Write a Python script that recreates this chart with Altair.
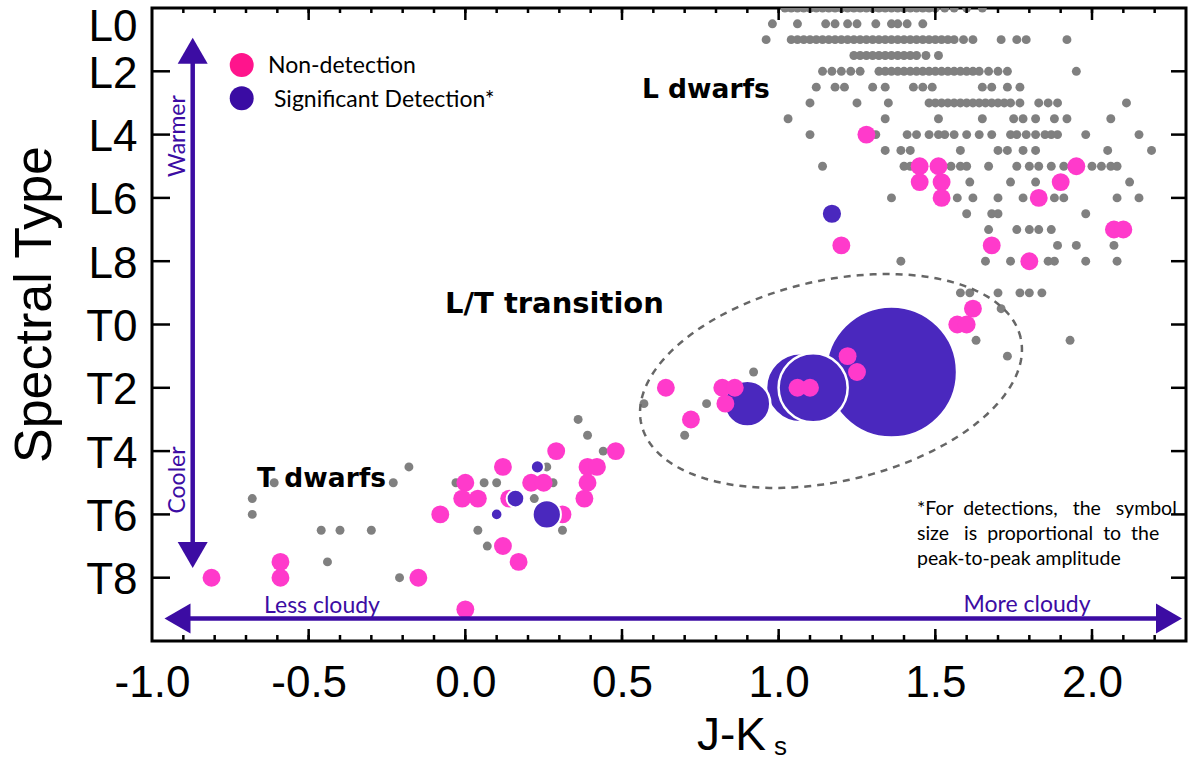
import math
import numpy as np
import pandas as pd
import altair as alt

# ---------------- data ----------------
# field L/T dwarfs (grey), one list of J-Ks values per spectral-type row
gray_spt = [0.0, 0.5, 1.0, 1.5, 2.0, 2.5, 3.0, 3.5, 4.0, 4.5, 5.0, 5.5, 6.0, 6.5,
            7.0, 7.5, 8.0, 9.0, 9.5, 10.5, 11.0, 11.5, 12.5, 13.0, 13.5, 14.0,
            14.5, 15.0, 15.5, 16.0, 16.5, 17.0, 17.5, 18.0]
gray_jk = [
    [1.02, 1.04, 1.06, 1.08, 1.10, 1.12, 1.14, 1.16, 1.18, 1.20, 1.22, 1.24, 1.26,
     1.28, 1.30, 1.32, 1.34, 1.36, 1.38, 1.40, 1.42, 1.44, 1.46, 1.48, 1.50, 1.53,
     1.56, 1.60, 1.65],
    [0.98, 1.06, 1.15, 1.18, 1.22, 1.25, 1.31, 1.36, 1.38, 1.41, 1.46],
    [0.96, 1.04, 1.06, 1.08, 1.10, 1.12, 1.14, 1.16, 1.18, 1.20, 1.22, 1.24, 1.26,
     1.28, 1.30, 1.32, 1.34, 1.36, 1.38, 1.40, 1.42, 1.44, 1.46, 1.48, 1.50, 1.52,
     1.54, 1.56, 1.59, 1.62, 1.71, 1.76, 1.79, 1.92],
    [1.24, 1.26, 1.28, 1.30, 1.32, 1.34, 1.36, 1.38, 1.40, 1.42, 1.44, 1.47, 1.51],
    [1.14, 1.17, 1.20, 1.23, 1.26, 1.32, 1.34, 1.36, 1.38, 1.40, 1.42, 1.44, 1.46,
     1.48, 1.50, 1.52, 1.54, 1.56, 1.58, 1.60, 1.62, 1.64, 1.67, 1.70, 1.73, 1.95],
    [1.12, 1.18, 1.21, 1.30, 1.34, 1.43, 1.46, 1.49, 1.65, 1.68, 1.73, 1.77],
    [1.10, 1.25, 1.35, 1.48, 1.50, 1.52, 1.54, 1.56, 1.58, 1.60, 1.62, 1.64, 1.66,
     1.68, 1.70, 1.72, 1.74, 1.77, 1.83, 1.86, 1.89, 2.11],
    [1.03, 1.34, 1.51, 1.65, 1.75, 1.78, 1.82, 1.88, 1.92, 2.06],
    [1.10, 1.31, 1.41, 1.44, 1.48, 1.51, 1.53, 1.56, 1.60, 1.64, 1.68, 1.74, 1.76,
     1.79, 1.82, 1.85, 1.87, 1.89, 1.98, 2.15],
    [1.34, 1.39, 1.42, 1.58, 1.70, 1.73, 1.78, 1.82, 2.05, 2.19],
    [1.14, 1.40, 1.42, 1.55, 1.58, 1.60, 1.67, 1.76, 1.80, 1.83, 1.87, 1.91, 2.00,
     2.03, 2.06, 2.08],
    [1.61, 1.74, 1.82, 2.12],
    [1.36, 1.57, 1.62, 1.70, 1.78, 1.88, 1.91, 2.08, 2.15],
    [1.60, 1.68, 1.70, 1.98],
    [1.67, 1.76, 1.80, 1.83, 1.87],
    [1.89, 1.95, 2.07],
    [1.39, 1.66, 1.74, 1.86, 1.88, 1.98, 2.08],
    [1.58, 1.61, 1.70, 1.77, 1.80, 1.84],
    [1.71],
    [1.63, 1.93],
    [1.73],
    [0.92],
    [0.57, 0.77],
    [0.36],
    [0.39, 0.70],
    [0.44],
    [-0.18, 0.26],
    [-0.61, -0.23, -0.03, 0.06, 0.10, 0.28],
    [-0.68, 0.22],
    [-0.68],
    [-0.46, -0.40, -0.30, 0.04, 0.31],
    [0.07],
    [-0.44],
    [-0.21],
]

# non-detections (pink)
pink_jk = [1.28, 1.45, 1.51, 1.95, 1.45, 1.52, 1.90, 1.52, 1.83, 2.07, 2.10, 1.20,
           1.68, 1.80, 1.62, 1.57, 1.60, 1.22, 1.25, 0.64, 0.82, 0.86, 1.06, 1.10,
           0.83, 0.72, 0.48, 0.29, 0.12, 0.39, 0.42, 0.00, 0.21, 0.25, 0.39, -0.01,
           0.04, 0.14, 0.38, -0.08, 0.31, 0.12, -0.59, 0.17, -0.81, -0.59, -0.15,
           0.00]
pink_spt = [4.0, 5.0, 5.0, 5.0, 5.5, 5.5, 5.5, 6.0, 6.0, 7.0, 7.0, 7.5, 7.5, 8.0,
            9.5, 10.0, 10.0, 11.0, 11.5, 12.0, 12.0, 12.0, 12.0, 12.0, 12.5, 13.0,
            14.0, 14.0, 14.5, 14.5, 14.5, 15.0, 15.0, 15.0, 15.0, 15.5, 15.5, 15.5,
            15.5, 16.0, 16.0, 17.0, 17.5, 17.5, 18.0, 18.0, 18.0, 19.0]

# significant detections (purple); amplitude in per cent (peak-to-peak)
det_jk = [1.36, 1.07, 1.11, 0.90, 1.17, 0.23, 0.16, 0.10, 0.26]
det_spt = [11.5, 12.0, 12.0, 12.5, 6.5, 14.5, 15.5, 16.0, 16.0]
det_amp = [26.0, 13.7, 13.7, 9.1, 4.0, 2.6, 3.5, 2.3, 5.6]
det_group = ["lt", "lt", "lt", "lt", "other", "other", "other", "other", "other"]

x_label_values = [-1.0, -0.5, 0.0, 0.5, 1.0, 1.5, 2.0]
y_tick_values = [0, 2, 4, 6, 8, 10, 12, 14, 16, 18]
y_tick_labels = ["L0", "L2", "L4", "L6", "L8", "T0", "T2", "T4", "T6", "T8"]

# ---------------- layout ----------------
W, H = 1034, 633
PAD = {"left": 152, "top": 8, "right": 2, "bottom": 120}
X_DOM = [-1.0, 2.3]
Y_DOM = [0.0, 20.0]
PINK = "#FF3ACB"
PURPLE = "#4A28BE"
ARROW = "#3C0CA3"
NB = "\u00a0"

xs = alt.Scale(domain=X_DOM, nice=False, zero=False)
ys = alt.Scale(domain=Y_DOM, nice=False, zero=False, reverse=True)

xaxis = alt.Axis(values=x_label_values,
                 labelExpr="datum.value < 0 ? '-' + format(-datum.value, '.1f') : format(datum.value, '.1f')",
                 title=None, grid=False, ticks=False, tickSize=0, domain=False,
                 labelFlush=False, labelFont="Liberation Sans", labelFontSize=44,
                 labelColor="black", labelPadding=20)
label_expr = "[" + ",".join("'%s'" % s for s in y_tick_labels) + "][round(datum.value/2)]"
yaxis = alt.Axis(values=y_tick_values, labelExpr=label_expr, grid=False, ticks=False,
                 tickSize=0, domain=False, labelFlush=True, labelFlushOffset=6,
                 labelOffset=3, labelFont="Liberation Sans", labelFontSize=44,
                 labelColor="black", labelPadding=15,
                 title="Spectral Type", titleFont="Liberation Sans", titleFontSize=52,
                 titleFontWeight="normal", titleColor="black", titleAngle=270,
                 titleX=-102, titleY=296, titleAlign="center", titleBaseline="alphabetic")

def X(field):
    return alt.X(field, type="quantitative", scale=xs, axis=xaxis)

def Y(field):
    return alt.Y(field, type="quantitative", scale=ys, axis=yaxis)

gray_df = pd.DataFrame([{"jk": v, "spt": s} for s, row in zip(gray_spt, gray_jk) for v in row])
pink_df = pd.DataFrame({"jk": pink_jk, "spt": pink_spt})
det_df = pd.DataFrame({"jk": det_jk, "spt": det_spt, "amp": det_amp, "grp": det_group})

size_scale = alt.Scale(type="pow", exponent=2, domain=[0, 26], range=[0, math.pi / 4 * 148 ** 2])

gray = alt.Chart(gray_df).mark_circle(size=80, color="#808080", opacity=1, clip=True).encode(
    x=X("jk"), y=Y("spt"))
pink = alt.Chart(pink_df).mark_circle(size=320, color=PINK, opacity=1, clip=True).encode(
    x=X("jk"), y=Y("spt"))
det_lt = alt.Chart(det_df).transform_filter("datum.grp == 'lt'").mark_circle(
    color=PURPLE, opacity=1, stroke="white", strokeWidth=2.5, clip=True).encode(
    x=X("jk"), y=Y("spt"), size=alt.Size("amp:Q", scale=size_scale, legend=None))
det_other = alt.Chart(det_df).transform_filter("datum.grp == 'other'").mark_circle(
    color=PURPLE, opacity=1, stroke="white", strokeWidth=2, clip=True).encode(
    x=X("jk"), y=Y("spt"), size=alt.Size("amp:Q", scale=size_scale, legend=None))

# dashed ellipse around the L/T transition (centre in data units, axes in pixels)
ell_cx, ell_cy = 1.167, 11.785
ell_a, ell_b, ell_theta = 194.5, 100.4, math.radians(12.8)
px_x = W / (X_DOM[1] - X_DOM[0])
px_y = H / (Y_DOM[1] - Y_DOM[0])
t = np.linspace(0, 2 * math.pi, 241)
dx = ell_a * math.cos(ell_theta) * np.cos(t) - ell_b * math.sin(ell_theta) * np.sin(t)
dy = -(ell_a * math.sin(ell_theta) * np.cos(t) + ell_b * math.cos(ell_theta) * np.sin(t))
ell_df = pd.DataFrame({"jk": ell_cx + dx / px_x, "spt": ell_cy + dy / px_y, "o": np.arange(len(t))})
ellipse = alt.Chart(ell_df).mark_line(color="#666666", strokeWidth=2.5, strokeDash=[7, 6]).encode(
    x=X("jk"), y=Y("spt"), order="o:Q")

# inward ticks on all four sides
x_minor = [round(-1.0 + 0.1 * i, 1) for i in range(1, 33)]
x_major = [-0.5, 0.0, 0.5, 1.0, 1.5, 2.0]
y_ticks = [2, 4, 6, 8, 10, 12, 14, 16, 18]

def xticks(vals, y0, y1):
    return alt.Chart(pd.DataFrame({"v": vals})).mark_rule(color="black", strokeWidth=2.5).encode(
        x=alt.X("v:Q", scale=xs, axis=xaxis), y=alt.value(y0), y2=alt.value(y1))

def yticks(vals, x0, x1):
    return alt.Chart(pd.DataFrame({"v": vals})).mark_rule(color="black", strokeWidth=2.5).encode(
        y=alt.Y("v:Q", scale=ys, axis=yaxis), x=alt.value(x0), x2=alt.value(x1))

ticks = [xticks(x_minor, H, H - 6), xticks(x_major, H, H - 12),
         xticks(x_minor, 0, 5), xticks(x_major, 0, 12),
         yticks(y_ticks, 0, 18), yticks(y_ticks, W, W - 15)]

one = pd.DataFrame({"a": [0]})

def txt(s, x, y, size, color="black", font="Lato", weight="normal", align="left", angle=0,
        baseline="alphabetic"):
    kw = dict(text=s, fontSize=size, color=color, font=font, fontWeight=weight, align=align,
              baseline=baseline)
    if angle:
        kw["angle"] = angle
    return alt.Chart(one).mark_text(**kw).encode(x=alt.value(x), y=alt.value(y))

def rule(x, y, x2=None, y2=None, color=ARROW, width=4.5):
    enc = dict(x=alt.value(x), y=alt.value(y))
    if x2 is not None:
        enc["x2"] = alt.value(x2)
    if y2 is not None:
        enc["y2"] = alt.value(y2)
    return alt.Chart(one).mark_rule(color=color, strokeWidth=width).encode(**enc)

def head(shape, x, y):
    return alt.Chart(one).mark_point(shape=shape, filled=True, size=900, color=ARROW,
                                     opacity=1).encode(x=alt.value(x), y=alt.value(y))

def dot(x, y, color, size):
    return alt.Chart(one).mark_circle(size=size, color=color, opacity=1).encode(
        x=alt.value(x), y=alt.value(y))

foot1 = ("*For" + NB + NB + "detections," + NB + NB + NB + "the" + NB + NB + NB
         + "symbol")
foot2 = ("size" + NB + NB + NB + "is" + NB + NB + "proportional" + NB + NB
         + "to" + NB + NB + "the")
foot3 = "peak-to-peak amplitude"

annot = [
    rule(40.7, 42.7, y2=547), head("triangle-up", 40.7, 42.7), head("triangle-down", 40.7, 547),
    rule(25.5, 610.5, x2=1017), head("triangle-left", 25.5, 610.5), head("triangle-right", 1017, 610.5),
    txt("Warmer", 33, 128, 23, color=ARROW, align="center", angle=270),
    txt("Cooler", 33, 472, 23, color=ARROW, align="center", angle=270),
    txt("Less cloudy", 170, 605, 23, color=ARROW, align="center"),
    txt("More cloudy", 875, 604, 23, color=ARROW, align="center"),
    txt("L dwarfs", 490, 90, 26.5, font="DejaVu Sans", weight="bold"),
    txt("L/T transition", 293, 305, 29, font="DejaVu Sans", weight="bold"),
    txt("T dwarfs", 105, 479, 26.5, font="DejaVu Sans", weight="bold"),
    dot(89.7, 57, "#FF148C", 573), dot(89.7, 90.3, "#3A0CA3", 573),
    txt("Non-detection", 116, 65, 23),
    txt("Significant Detection*", 122, 98.7, 23),
    txt(foot1, 765, 507, 19.5),
    txt(foot2, 765, 532, 19.5),
    txt(foot3, 765, 557, 19.5),
    txt("J-K", 545, 742, 46, font="Liberation Sans"),
    txt("s", 622, 747, 26, font="Liberation Sans"),
]

chart = alt.layer(gray, ellipse, det_lt, pink, det_other, *ticks, *annot).properties(
    width=W, height=H, autosize=alt.AutoSizeParams(type="none"), padding=PAD
).configure_view(stroke="black", strokeWidth=3).configure_axis(grid=False)

chart.save("out.html", embed_options={"renderer": "svg", "actions": False})
